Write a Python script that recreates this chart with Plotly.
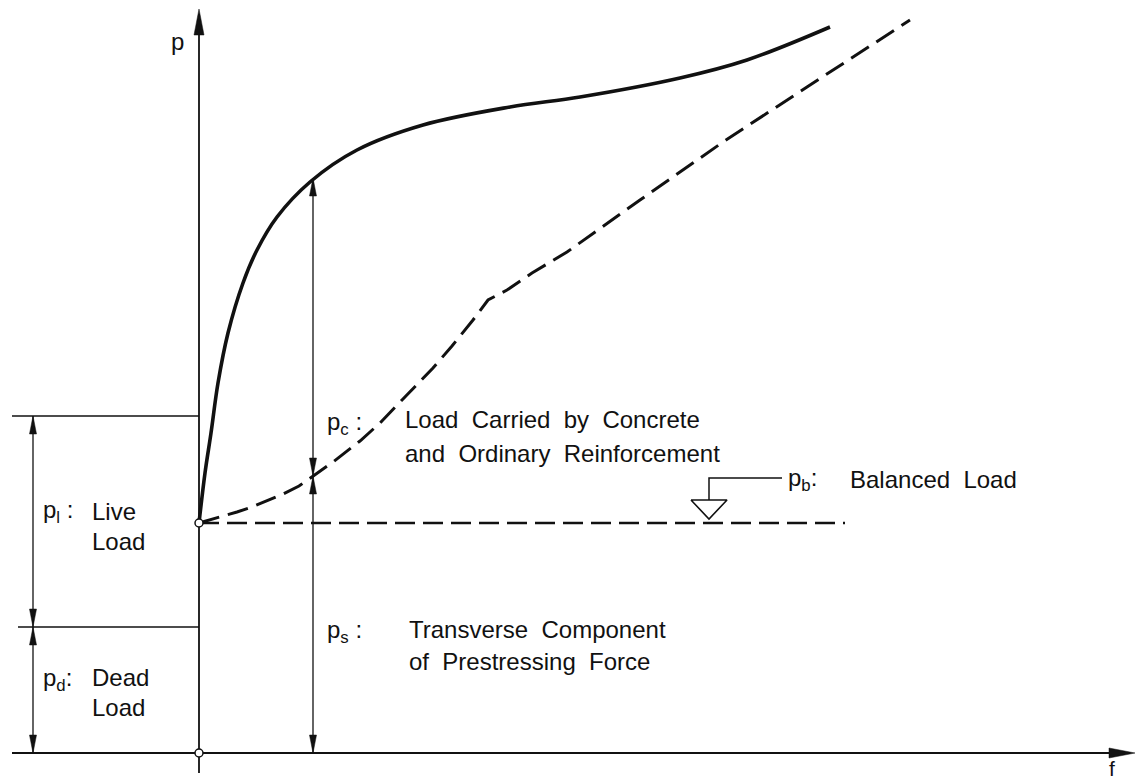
import plotly.graph_objects as go

# ---------------- data (diagram units: f horizontal, p vertical) ----------------
solid_f = [0, 6, 12, 19, 29, 44, 58, 78, 111, 158, 224, 311, 381, 481, 548, 631]
solid_p = [230, 280, 320, 370, 420, 470, 503, 536, 571, 603, 628, 646, 656, 675, 693, 726]

dashed_f = [0, 11, 25, 38, 53, 68, 84, 100, 114, 134, 161, 181, 204, 234, 253, 274, 289, 308, 333, 368, 441, 524, 608, 711]
dashed_p = [230, 233, 237, 241, 246, 252, 259, 267, 277, 291, 312, 330, 354, 385, 407, 433, 453, 463, 480, 501, 553, 611, 666, 733]

balanced_p = 230          # balanced load level
balanced_f_end = 646      # extent of balanced-load line
dead_top = 126            # p_d level
live_top = 337            # p_d + p_l level
dim_f = 114               # position of p_c / p_s dimension line
pc_split = 277            # dashed curve value at dim_f
pc_top = 575              # solid curve value at dim_f
left_dim_f = -166         # left dimension line
axis_f_max = 936
axis_p_max = 744

BLACK = "#111111"
FONT = "Liberation Sans"

fig = go.Figure()

def line(xs, ys, width=1.4, dash=None, color=BLACK, shape="linear"):
    fig.add_trace(go.Scatter(x=xs, y=ys, mode="lines",
                             line=dict(color=color, width=width, dash=dash, shape=shape),
                             hoverinfo="skip", showlegend=False))

def head(tf, tp, df, dp, length=18, hw=3.5):
    # filled arrowhead with tip at (tf, tp) pointing in direction (df, dp)
    n = (df ** 2 + dp ** 2) ** 0.5
    ux, uy = df / n, dp / n
    bx, by = tf - ux * length, tp - uy * length
    px, py = -uy, ux
    xs = [tf, bx + px * hw, bx - px * hw, tf]
    ys = [tp, by + py * hw, by - py * hw, tp]
    fig.add_trace(go.Scatter(x=xs, y=ys, mode="lines", fill="toself",
                             fillcolor=BLACK, line=dict(color=BLACK, width=0.5),
                             hoverinfo="skip", showlegend=False))

def dim(f, p0, p1):
    line([f, f], [p0, p1], width=1.3)
    head(f, p0, 0, -1)
    head(f, p1, 0, 1)

# axes
line([0, 0], [-20, axis_p_max - 10], width=1.8)
head(0, axis_p_max, 0, 1, length=26, hw=5)
line([-187, axis_f_max - 10], [0, 0], width=1.8)
head(axis_f_max, 0, 1, 0, length=26, hw=5)

# left level lines
line([-187, 0], [live_top, live_top], width=1.5)
line([-181, 0], [dead_top, dead_top], width=1.5)

# left dimension lines
dim(left_dim_f, 0, dead_top)
dim(left_dim_f, dead_top, live_top)

# p_c / p_s dimension lines
dim(dim_f, 0, pc_split)
dim(dim_f, pc_split, pc_top)

# balanced load dashed line
line([0, balanced_f_end], [balanced_p, balanced_p], width=2.6, dash="20px,8px")

# dashed curve
line(dashed_f, dashed_p, width=3, dash="21px,9px")

# solid curve
fig.add_trace(go.Scatter(x=solid_f, y=solid_p, mode="lines",
                         line=dict(color=BLACK, width=3.6, shape="spline", smoothing=1.0),
                         hoverinfo="skip", showlegend=False))

# balanced load symbol
tri_c = 510
line([tri_c - 18, tri_c + 18, tri_c, tri_c - 18],
     [balanced_p + 23, balanced_p + 23, balanced_p + 4, balanced_p + 23], width=1.6)
line([tri_c, tri_c, 583], [balanced_p + 23, balanced_p + 45, balanced_p + 45], width=1.5)

# small open circles
fig.add_trace(go.Scatter(x=[0, 0], y=[balanced_p, 0], mode="markers",
                         marker=dict(symbol="circle", size=8, color="white",
                                     line=dict(color=BLACK, width=1.5)),
                         hoverinfo="skip", showlegend=False))

# ---------------- text ----------------
def txt(f, p, s, size=24, anchor="left"):
    fig.add_annotation(x=f, y=p, text=s, showarrow=False, xanchor=anchor,
                       yanchor="middle", font=dict(family=FONT, size=size, color=BLACK))

NB = "\u00a0"
txt(-22, 712, "p", anchor="center")
txt(913, -15, "f", size=21, anchor="center")

txt(-158, 242, "p<sub>l</sub> :")
txt(-109, 242, "Live")
txt(-109, 212, "Load")
txt(-158, 74, "p<sub>d</sub>:")
txt(-109, 76, "Dead")
txt(-109, 46, "Load")

txt(126, 330, "p<sub>c</sub> :")
txt(204, 334, "Load" + NB + " Carried" + NB + " by" + NB + " Concrete")
txt(204, 300, "and" + NB + " Ordinary" + NB + " Reinforcement")

txt(126, 122, "p<sub>s</sub> :")
txt(208, 124, "Transverse" + NB + " Component")
txt(208, 92, "of" + NB + " Prestressing" + NB + " Force")

txt(587, 274, "p<sub>b</sub>:")
txt(649, 274, "Balanced" + NB + " Load")

fig.update_layout(
    width=1137, height=781,
    margin=dict(l=0, r=0, t=0, b=0),
    paper_bgcolor="white", plot_bgcolor="white",
    xaxis=dict(range=[-199, 938], visible=False, fixedrange=True),
    yaxis=dict(range=[-28, 753], visible=False, fixedrange=True),
    showlegend=False,
)

fig.write_html("out.html", config={"displayModeBar": False},
               post_script="document.body.style.margin='0';document.body.style.overflow='hidden';")
